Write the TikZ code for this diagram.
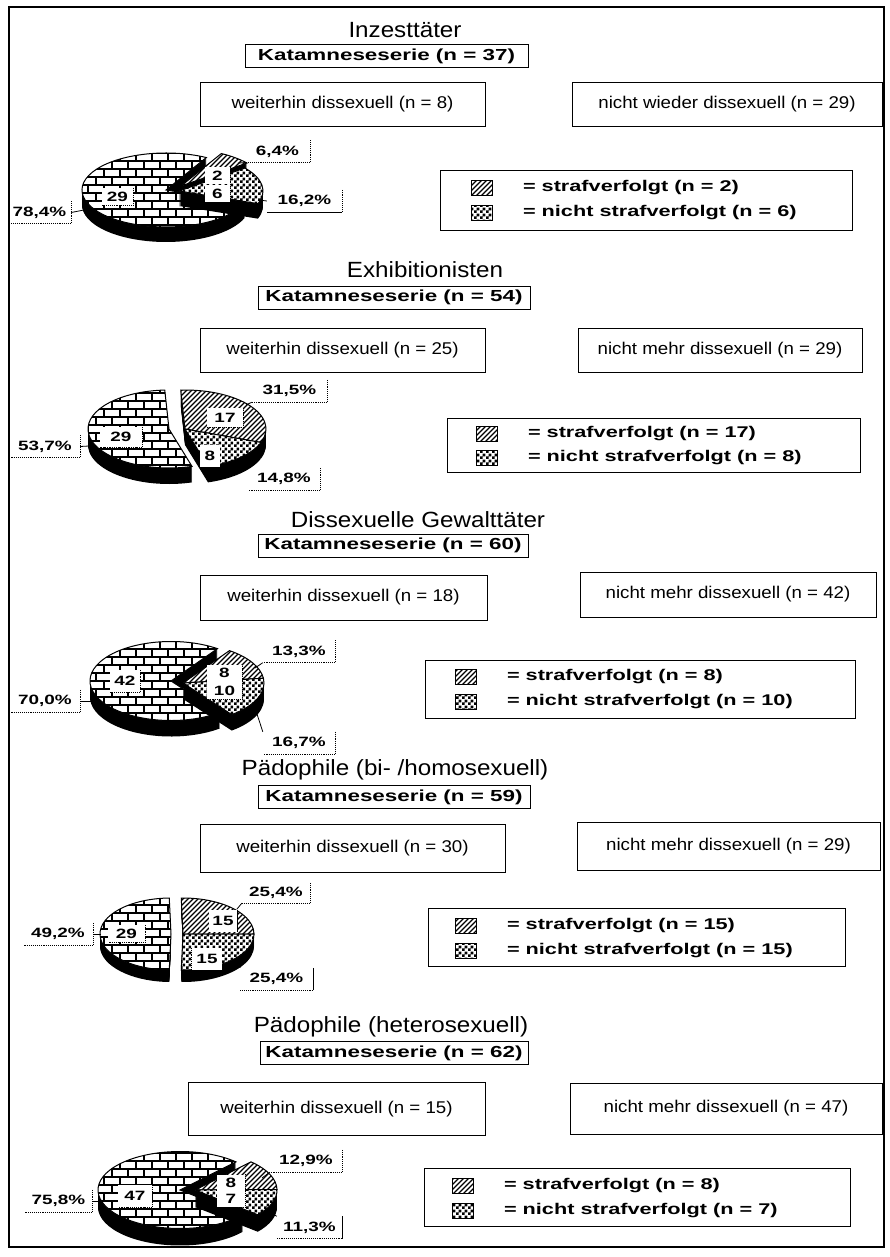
\documentclass[tikz,border=0pt]{standalone}
\usepackage{fontspec}
\setmainfont{Liberation Sans}[FakeStretch=1.1]
\newfontfamily\widebold{Liberation Sans}[FakeStretch=1.4]
\usepackage{tikz}
\usetikzlibrary{calc}
\usetikzlibrary{patterns, positioning}

%%% patterns of the pie faces
\pgfdeclarepatternformonly{bigbricks}{\pgfqpoint{-1pt}{-1pt}}{\pgfqpoint{17pt}{17pt}}{\pgfqpoint{16pt}{16pt}}{
  \pgfsetlinewidth{2.4pt}
  \pgfpathmoveto{\pgfqpoint{-1pt}{0pt}}\pgfpathlineto{\pgfqpoint{17pt}{0pt}}
  \pgfpathmoveto{\pgfqpoint{-1pt}{8pt}}\pgfpathlineto{\pgfqpoint{17pt}{8pt}}
  \pgfpathmoveto{\pgfqpoint{0pt}{0pt}}\pgfpathlineto{\pgfqpoint{0pt}{8pt}}
  \pgfpathmoveto{\pgfqpoint{8pt}{8pt}}\pgfpathlineto{\pgfqpoint{8pt}{16pt}}
  \pgfusepath{stroke}}
\pgfdeclarepatternformonly{diaglines}{\pgfqpoint{-1pt}{-1pt}}{\pgfqpoint{6pt}{6pt}}{\pgfqpoint{5pt}{5pt}}{
  \pgfsetlinewidth{1.1pt}
  \pgfpathmoveto{\pgfqpoint{0pt}{0pt}}
  \pgfpathlineto{\pgfqpoint{5.1pt}{5.1pt}}
  \pgfusepath{stroke}}
\pgfdeclarepatternformonly{chequer}{\pgfpointorigin}{\pgfqpoint{6pt}{6pt}}{\pgfqpoint{6pt}{6pt}}{
  \pgfpathrectangle{\pgfpointorigin}{\pgfqpoint{3pt}{3pt}}
  \pgfpathrectangle{\pgfqpoint{3pt}{3pt}}{\pgfqpoint{3pt}{3pt}}
  \pgfusepath{fill}}

\tikzset{
headline/.style = {font=\fontsize{22}{26}\selectfont},
katbox/.style = {draw, line width=0.8pt, inner sep=0pt, minimum height=23pt,
        font=\widebold\bfseries\fontsize{16}{19}\selectfont},
groupbox/.style = {draw, line width=0.8pt, inner sep=0pt,
        font=\fontsize{17}{20}\selectfont},
legendbox/.style = {draw, line width=0.8pt, inner sep=0pt},
legtext/.style = {font=\widebold\bfseries\fontsize{15.5}{18}\selectfont, inner sep=0pt},
swatch/.style = {draw, line width=0.6pt, minimum width=21pt, minimum height=15pt,
        inner sep=0pt, preaction={fill=white}},
pctlabel/.style = {font=\widebold\bfseries\fontsize{13.5}{15}\selectfont,
        inner sep=0pt, minimum height=22pt},
numbox/.style = {fill=white, font=\widebold\bfseries\fontsize{13.5}{15}\selectfont,
        inner sep=0pt, minimum height=17pt},
dotline/.style = {line width=0.9pt, densely dotted},
leader/.style = {line width=0.8pt},
brickface/.style = {draw, line width=1pt, preaction={fill=white}, pattern=bigbricks},
hatchface/.style = {draw, line width=1pt, preaction={fill=white}, pattern=diaglines},
checkface/.style = {draw, line width=1pt, preaction={fill=white}, pattern=chequer},
frame/.style = {line width=1.3pt}
}

% one slice of a tilted pie: centre, start angle, end angle, depth, face style
\newcommand{\cakeslice}[5]{%
  \foreach \dz in {#4,...,1}{
    \fill[black] ($(#1)+(0,-\dz)$) -- ++({\pierx*cos(#2)},{\piery*sin(#2)})
      arc[start angle=#2, end angle=#3, x radius=\pierx, y radius=\piery] -- cycle;
  }
  \path[#5] (#1) -- ++({\pierx*cos(#2)},{\piery*sin(#2)})
      arc[start angle=#2, end angle=#3, x radius=\pierx, y radius=\piery] -- cycle;
}

\begin{document}
\begin{tikzpicture}[x=1pt, y=1pt]

\useasboundingbox (0,0) rectangle (890,-1257);
\draw[frame] (9,-7) rectangle (884,-1247);

%%% Inzesttaeter

\node[headline] (t1) at (405,-30) {Inzesttäter};
\node[katbox, minimum width=283pt] (k1) at (386.5,-56) {Katamneseserie (n = 37)};
\node[groupbox, minimum width=285pt, minimum height=44pt] (w1) at (342.5,-104) {weiterhin dissexuell (n = 8)};
\node[groupbox, minimum width=310pt, minimum height=44pt] (r1) at (727,-104) {nicht wieder dissexuell (n = 29)};

\coordinate (C1) at (171,-190);
\coordinate (B1) at ($(C1)+(-5,0)$);
\coordinate (H1) at ($(C1)+(10,4)$);
\coordinate (S1) at ($(C1)+(8,-1)$);
\def\pierx{84}
\def\piery{37}
\cakeslice{B1}{61.3}{340}{15}{brickface}
\cakeslice{H1}{38.3}{61.3}{15}{hatchface}
\cakeslice{S1}{-20}{38.3}{15}{checkface}

\node[numbox, minimum width=31pt] (n1a) at (117.5,-196.5) {29};
\draw[dotline] (n1a.north east) -- (n1a.south east) -- (n1a.south west);
\node[numbox, minimum width=25pt] (n1b) at (217.5,-176) {2};
\node[numbox, minimum width=25pt, below=0pt of n1b] (n1c) {6};
\draw[dotline] (n1b.north east) -- (n1c.south east) -- (n1c.south west);

\node[pctlabel, minimum width=65pt] (p1a) at (277.5,-151.5) {6,4\%};
\node[pctlabel, minimum width=75pt] (p1b) at (304.5,-201) {16,2\%};
\node[pctlabel, minimum width=63pt] (p1c) at (39.5,-212.5) {78,4\%};
\draw[dotline] (p1a.north east) -- (p1a.south east) -- (p1a.south west);
\draw[dotline] (p1b.north east) -- (p1b.south east);
\draw[leader] (p1b.south east) -- (p1b.south west);
\draw[dotline] (p1c.north east) -- (p1c.south east) -- (p1c.south west);
\coordinate (e1a) at (238,-163);
\coordinate (e1b) at (259,-200);
\coordinate (e1c) at (84,-210);
\draw[leader] (e1a) -- (p1a.south west);
\draw[leader] (e1b) -- (p1b.west);
\draw[leader] (e1c) -- (p1c.east);

\node[legendbox, minimum width=412pt, minimum height=60pt] (g1) at (646,-200) {};
\node[swatch, pattern=diaglines] (h1) at (482,-188) {};
\node[swatch, pattern=chequer, below=9pt of h1] (q1) {};
\node[legtext, right=30pt of h1] (h1t) {= strafverfolgt (n = 2)};
\node[legtext, right=30pt of q1] (q1t) {= nicht strafverfolgt (n = 6)};

%%% Exhibitionisten

\node[headline] (t2) at (425,-270) {Exhibitionisten};
\node[katbox, minimum width=272pt] (k2) at (394,-297.5) {Katamneseserie (n = 54)};
\node[groupbox, minimum width=285pt, minimum height=44pt] (w2) at (342.5,-350) {weiterhin dissexuell (n = 25)};
\node[groupbox, minimum width=284pt, minimum height=44pt] (r2) at (720,-350) {nicht mehr dissexuell (n = 29)};

\coordinate (C2) at (177,-429);
\coordinate (B2) at ($(C2)+(-8,0)$);
\coordinate (S2) at ($(C2)+(8,0)$);
\def\pierx{81}
\def\piery{39}
\cakeslice{B2}{93}{286.5}{16}{brickface}
\cakeslice{S2}{-20.2}{93}{16}{hatchface}
\cakeslice{S2}{-73.5}{-20.2}{16}{checkface}

\node[numbox, minimum width=42pt, minimum height=20pt] (n2a) at (121,-437) {29};
\draw[dotline] (n2a.north east) -- (n2a.south east) -- (n2a.south west);
\node[numbox, minimum width=36pt, minimum height=19pt] (n2b) at (225,-417.5) {17};
\draw[dotline] (n2b.north east) -- (n2b.south east) -- (n2b.south west);
\node[numbox, minimum width=20pt, minimum height=22pt] (n2c) at (210,-456) {8};

\node[pctlabel, minimum width=75pt] (p2a) at (289.5,-391) {31,5\%};
\node[pctlabel, minimum width=70pt] (p2b) at (45,-446.5) {53,7\%};
\node[pctlabel, minimum width=72pt] (p2c) at (284,-479) {14,8\%};
\draw[dotline] (p2a.north east) -- (p2a.south east) -- (p2a.south west);
\draw[dotline] (p2b.north east) -- (p2b.south east) -- (p2b.south west);
\draw[dotline] (p2c.north east) -- (p2c.south east) -- (p2c.south west);
\coordinate (e2a) at (246,-405);
\coordinate (e2b) at (89,-446);
\coordinate (e2c) at (240,-472);
\draw[leader] (e2a) -- (p2a.south west);
\draw[leader] (e2b) -- (p2b.east);
\draw[leader] (e2c) -- (p2c.north west);

\node[legendbox, minimum width=413pt, minimum height=54pt] (g2) at (653.5,-445) {};
\node[swatch, pattern=diaglines] (h2) at (487,-434) {};
\node[swatch, pattern=chequer, below=8pt of h2] (q2) {};
\node[legtext, right=30pt of h2] (h2t) {= strafverfolgt (n = 17)};
\node[legtext, right=30pt of q2] (q2t) {= nicht strafverfolgt (n = 8)};

%%% Dissexuelle Gewalttaeter

\node[headline] (t3) at (418,-520) {Dissexuelle Gewalttäter};
\node[katbox, minimum width=270pt] (k3) at (393,-545.5) {Katamneseserie (n = 60)};
\node[groupbox, minimum width=287pt, minimum height=45pt] (w3) at (343.5,-597.5) {weiterhin dissexuell (n = 18)};
\node[groupbox, minimum width=296pt, minimum height=45pt] (r3) at (728,-594.5) {nicht mehr dissexuell (n = 42)};

\coordinate (C3) at (174,-681);
\coordinate (B3) at ($(C3)+(-3,0)$);
\coordinate (S3) at ($(C3)+(9,-2)$);
\def\pierx{81}
\def\piery{39.5}
\cakeslice{B3}{55}{307}{16}{brickface}
\cakeslice{S3}{7}{55}{16}{hatchface}
\cakeslice{S3}{-53}{7}{16}{checkface}

\node[numbox, minimum width=30pt, minimum height=22pt] (n3a) at (125,-681) {42};
\draw[dotline] (n3a.north east) -- (n3a.south east) -- (n3a.south west);
\node[numbox, minimum width=35pt] (n3b) at (224.5,-673) {8};
\node[numbox, minimum width=35pt, below=0pt of n3b] (n3c) {10};
\draw[dotline] (n3b.north east) -- (n3c.south east) -- (n3c.south west);

\node[pctlabel, minimum width=72pt] (p3a) at (299,-651.5) {13,3\%};
\node[pctlabel, minimum width=70pt] (p3b) at (45,-701) {70,0\%};
\node[pctlabel, minimum width=72pt] (p3c) at (299,-743) {16,7\%};
\draw[dotline] (p3a.north east) -- (p3a.south east) -- (p3a.south west);
\draw[dotline] (p3b.north east) -- (p3b.south east) -- (p3b.south west);
\draw[dotline] (p3c.north east) -- (p3c.south east) -- (p3c.south west);
\coordinate (e3a) at (255,-668);
\coordinate (e3b) at (91,-701);
\coordinate (e3c) at (257,-714);
\draw[leader] (e3a) -- (p3a.south west);
\draw[leader] (e3b) -- (p3b.east);
\draw[leader] (e3c) -- (p3c.north west);

\node[legendbox, minimum width=430pt, minimum height=58pt] (g3) at (640,-689) {};
\node[swatch, pattern=diaglines] (h3) at (466,-677) {};
\node[swatch, pattern=chequer, below=9pt of h3] (q3) {};
\node[legtext, right=30pt of h3] (h3t) {= strafverfolgt (n = 8)};
\node[legtext, right=30pt of q3] (q3t) {= nicht strafverfolgt (n = 10)};

%%% Paedophile (bi- /homosexuell)

\node[headline] (t4) at (395,-770) {Pädophile (bi- /homosexuell)};
\node[katbox, minimum width=272pt] (k4) at (394,-797) {Katamneseserie (n = 59)};
\node[groupbox, minimum width=305pt, minimum height=48pt] (w4) at (352.5,-848) {weiterhin dissexuell (n = 30)};
\node[groupbox, minimum width=303pt, minimum height=48pt] (r4) at (728.5,-846) {nicht mehr dissexuell (n = 29)};

\coordinate (C4) at (177,-934);
\coordinate (B4) at ($(C4)+(-6,0)$);
\coordinate (S4) at ($(C4)+(6,0)$);
\def\pierx{71}
\def\piery{36}
\cakeslice{B4}{91.4}{268.6}{12}{brickface}
\cakeslice{S4}{0}{91.4}{12}{hatchface}
\cakeslice{S4}{-91.4}{0}{12}{checkface}

\node[numbox, minimum width=37pt] (n4a) at (126.5,-933.5) {29};
\draw[dotline] (n4a.north east) -- (n4a.south east) -- (n4a.south west);
\node[numbox, minimum width=28pt, minimum height=22pt] (n4b) at (223,-921) {15};
\draw[leader] (n4b.north east) -- (n4b.south east);
\node[numbox, minimum width=30pt, minimum height=22pt] (n4c) at (207,-959) {15};
\draw[dotline] (n4c.north west) -- (n4c.south west) -- (n4c.south east);

\node[pctlabel, minimum width=68pt, minimum height=20pt] (p4a) at (276,-893) {25,4\%};
\node[pctlabel, minimum width=70pt] (p4b) at (58,-934) {49,2\%};
\node[pctlabel, minimum width=73pt] (p4c) at (276.5,-979) {25,4\%};
\draw[dotline] (p4a.north east) -- (p4a.south east) -- (p4a.south west);
\draw[dotline] (p4b.north east) -- (p4b.south east) -- (p4b.south west);
\draw[leader] (p4c.north east) -- (p4c.south east);
\draw[dotline] (p4c.south east) -- (p4c.south west);
\coordinate (e4a) at (237,-909);
\coordinate (e4b) at (101,-934);
\coordinate (e4c) at (246,-956);
\draw[leader] (e4a) -- (p4a.south west);
\draw[leader] (e4b) -- (p4b.east);
\draw[leader] (e4c) -- (p4c.north west);

\node[legendbox, minimum width=417pt, minimum height=58pt] (g4) at (636.5,-937) {};
\node[swatch, pattern=diaglines] (h4) at (466,-926) {};
\node[swatch, pattern=chequer, below=9pt of h4] (q4) {};
\node[legtext, right=30pt of h4] (h4t) {= strafverfolgt (n = 15)};
\node[legtext, right=30pt of q4] (q4t) {= nicht strafverfolgt (n = 15)};

%%% Paedophile (heterosexuell)

\node[headline] (t5) at (391,-1027) {Pädophile (heterosexuell)};
\node[katbox, minimum width=268pt] (k5) at (394,-1053) {Katamneseserie (n = 62)};
\node[groupbox, minimum width=297pt, minimum height=53pt] (w5) at (336.5,-1109) {weiterhin dissexuell (n = 15)};
\node[groupbox, minimum width=312pt, minimum height=51pt] (r5) at (726,-1108.5) {nicht mehr dissexuell (n = 47)};

\coordinate (C5) at (183,-1190);
\coordinate (B5) at ($(C5)+(-3,0)$);
\coordinate (S5) at ($(C5)+(12,0)$);
\def\pierx{82}
\def\piery{38.5}
\cakeslice{B5}{47}{320}{17}{brickface}
\cakeslice{S5}{0.7}{47}{17}{hatchface}
\cakeslice{S5}{-40}{0.7}{17}{checkface}

\node[numbox, minimum width=34pt, minimum height=22pt] (n5a) at (135,-1196) {47};
\draw[dotline] (n5a.north east) -- (n5a.south east) -- (n5a.south west);
\node[numbox, minimum width=28pt, minimum height=16pt] (n5b) at (231,-1182.5) {8};
\node[numbox, minimum width=28pt, minimum height=16pt, below=0pt of n5b] (n5c) {7};
\draw[dotline] (n5b.north east) -- (n5c.south east) -- (n5c.south west);

\node[pctlabel, minimum width=72pt] (p5a) at (306,-1161) {12,9\%};
\node[pctlabel, minimum width=67pt] (p5b) at (58.5,-1201) {75,8\%};
\node[pctlabel, minimum width=65pt] (p5c) at (309.5,-1227.5) {11,3\%};
\draw[dotline] (p5a.north east) -- (p5a.south east) -- (p5a.south west);
\draw[dotline] (p5b.north east) -- (p5b.south east) -- (p5b.south west);
\draw[leader] (p5c.north east) -- (p5c.south east);
\draw[dotline] (p5c.south east) -- (p5c.south west);
\coordinate (e5a) at (262,-1178);
\coordinate (e5b) at (99,-1201);
\coordinate (e5c) at (273,-1214);
\draw[leader] (e5a) -- (p5a.south west);
\draw[leader] (e5b) -- (p5b.east);
\draw[leader] (e5c) -- (p5c.north west);

\node[legendbox, minimum width=426pt, minimum height=58pt] (g5) at (637,-1197) {};
\node[swatch, pattern=diaglines] (h5) at (463,-1186) {};
\node[swatch, pattern=chequer, below=9pt of h5] (q5) {};
\node[legtext, right=30pt of h5] (h5t) {= strafverfolgt (n = 8)};
\node[legtext, right=30pt of q5] (q5t) {= nicht strafverfolgt (n = 7)};

\end{tikzpicture}
\end{document}
